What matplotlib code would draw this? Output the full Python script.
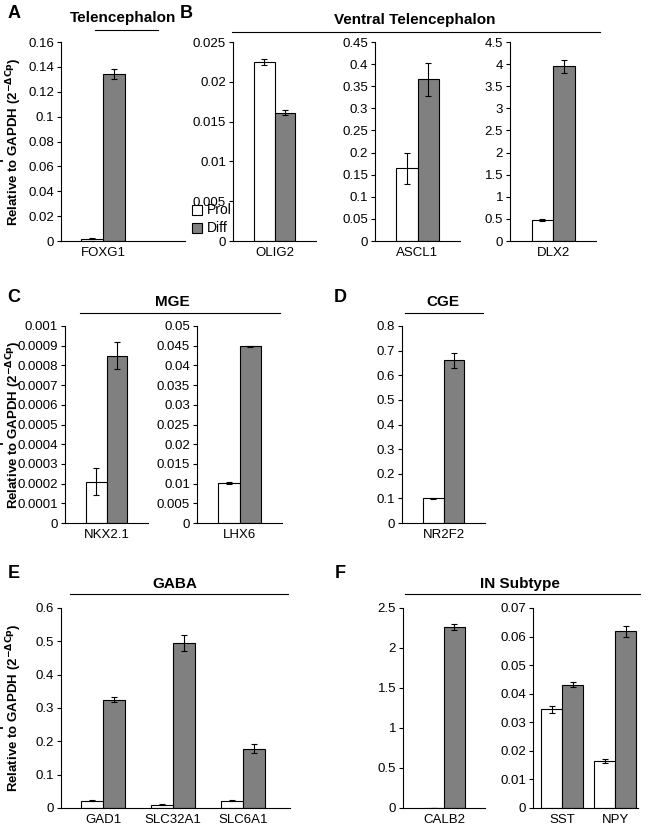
import matplotlib.pyplot as plt
from matplotlib.patches import Rectangle
from matplotlib.lines import Line2D

plt.rcParams['font.family'] = ['Liberation Sans', 'DejaVu Sans']
plt.rcParams['font.size'] = 9.5

W, H = 672, 826

# gene names, prol, prol_err, diff, diff_err
foxg1 = (["FOXG1"], [0.002], [0.0003], [0.134], [0.004])
olig2 = (["OLIG2"], [0.0225], [0.0004], [0.0161], [0.0003])
ascl1 = (["ASCL1"], [0.165], [0.035], [0.366], [0.037])
dlx2 = (["DLX2"], [0.47], [0.02], [3.95], [0.15])
nkx21 = (["NKX2.1"], [0.00021], [0.00007], [0.00085], [0.00007])
lhx6 = (["LHX6"], [0.0101], [0.0002], [0.0448], [0.0002])
nr2f2 = (["NR2F2"], [0.1], [0.003], [0.66], [0.03])
gaba = (["GAD1", "SLC32A1", "SLC6A1"], [0.022, 0.01, 0.022], [0.002, 0.001, 0.002],
        [0.325, 0.495, 0.178], [0.008, 0.025, 0.013])
calb2 = (["CALB2"], [0.005], [0.001], [2.26], [0.04])
sst_npy = (["SST", "NPY"], [0.0345, 0.0165], [0.0013, 0.0006], [0.0432, 0.0618], [0.001, 0.0018])

YLABEL = "Expression\nRelative to GAPDH (2$^{\\mathbf{-\\Delta Cp}}$)"

fig = plt.figure(figsize=(W / 100, H / 100), dpi=100)


def add_axes(x0, x1, y0, y1):
    return fig.add_axes([x0 / W, 1 - y1 / H, (x1 - x0) / W, (y1 - y0) / H])


def panel(box, data, ymax, ystep, xlim, width, fmt, ylabel=False):
    ax = add_axes(*box)
    genes, p, pe, d, de = data
    xs = list(range(len(genes)))
    ekw = dict(elinewidth=0.8, capthick=0.8)
    ax.bar([x - width / 2 for x in xs], p, width, yerr=pe, color="white", edgecolor="black",
           linewidth=0.8, capsize=2.5, error_kw=ekw)
    ax.bar([x + width / 2 for x in xs], d, width, yerr=de, color="#808080", edgecolor="black",
           linewidth=0.8, capsize=2.5, error_kw=ekw)
    ax.set_xlim(*xlim)
    ax.set_ylim(0, ymax)
    n = int(round(ymax / ystep))
    ticks = [i * ystep for i in range(n + 1)]
    ax.set_yticks(ticks)
    ax.set_yticklabels([fmt(t) for t in ticks])
    ax.set_xticks(xs)
    ax.set_xticklabels(genes)
    ax.tick_params(axis='x', length=0, pad=4)
    ax.tick_params(axis='y', length=3, direction='out', pad=2)
    for s in ["top", "right"]:
        ax.spines[s].set_visible(False)
    if ylabel:
        ax.set_ylabel(YLABEL, fontweight="bold", fontsize=9.5, linespacing=1.1)
        ax.yaxis.set_label_coords((24 - box[0]) / (box[1] - box[0]), 0.5)
    return ax


def g(t):
    return ("%.4f" % t).rstrip("0").rstrip(".") if t else "0"


def g5(t):
    return ("%.5f" % t).rstrip("0").rstrip(".") if t else "0"


one = (-0.8, 0.8)
R1, R2, R3 = (42, 241), (326, 523), (608, 808)
panel((61, 185) + R1, foxg1, 0.16, 0.02, (-0.76, 1.49), 0.4, g, ylabel=True)
panel((233, 316) + R1, olig2, 0.025, 0.005, one, 0.4, g5)
panel((375, 460) + R1, ascl1, 0.45, 0.05, one, 0.4, g)
panel((510, 596) + R1, dlx2, 4.5, 0.5, one, 0.4, g)
panel((65, 148) + R2, nkx21, 0.001, 0.0001, one, 0.4, g5, ylabel=True)
panel((197, 282) + R2, lhx6, 0.05, 0.005, one, 0.4, g5)
panel((402, 485) + R2, nr2f2, 0.8, 0.1, one, 0.4, g)
panel((61, 290) + R3, gaba, 0.6, 0.1, (-0.6, 2.67), 0.32, g, ylabel=True)
panel((403, 485) + R3, calb2, 2.5, 0.5, one, 0.4, g)
panel((533, 638) + R3, sst_npy, 0.07, 0.01, (-0.55, 1.43), 0.4, g)


def head(text, x, y, x0, x1, ly):
    fig.text(x / W, 1 - y / H, text, ha="center", va="center", fontsize=11, fontweight="bold")
    fig.add_artist(Line2D([x0 / W, x1 / W], [1 - ly / H, 1 - ly / H], color="black", lw=0.8))


head("Telencephalon", 123, 18, 95, 158, 30)
head("Ventral Telencephalon", 415, 20, 232, 600, 32)
head("MGE", 172, 302, 80, 280, 313)
head("CGE", 443, 302, 405, 483, 313)
head("GABA", 175, 584, 70, 288, 594)
head("IN Subtype", 520, 584, 405, 640, 594)

for letter, x, y in [("A", 14, 14), ("B", 186, 14), ("C", 14, 297), ("D", 340, 297),
                     ("E", 14, 574), ("F", 340, 574)]:
    fig.text(x / W, 1 - y / H, letter, ha="center", va="center", fontsize=13, fontweight="bold")

for label, color, y in [("Prol", "white", 210), ("Diff", "#808080", 228)]:
    fig.add_artist(Rectangle((192 / W, 1 - (y + 5) / H), 10 / W, 10 / H, facecolor=color,
                             edgecolor="black", lw=0.8, transform=fig.transFigure))
    fig.text(207 / W, 1 - y / H, label, va="center", fontsize=10)

fig.savefig("out.png", dpi=100)
